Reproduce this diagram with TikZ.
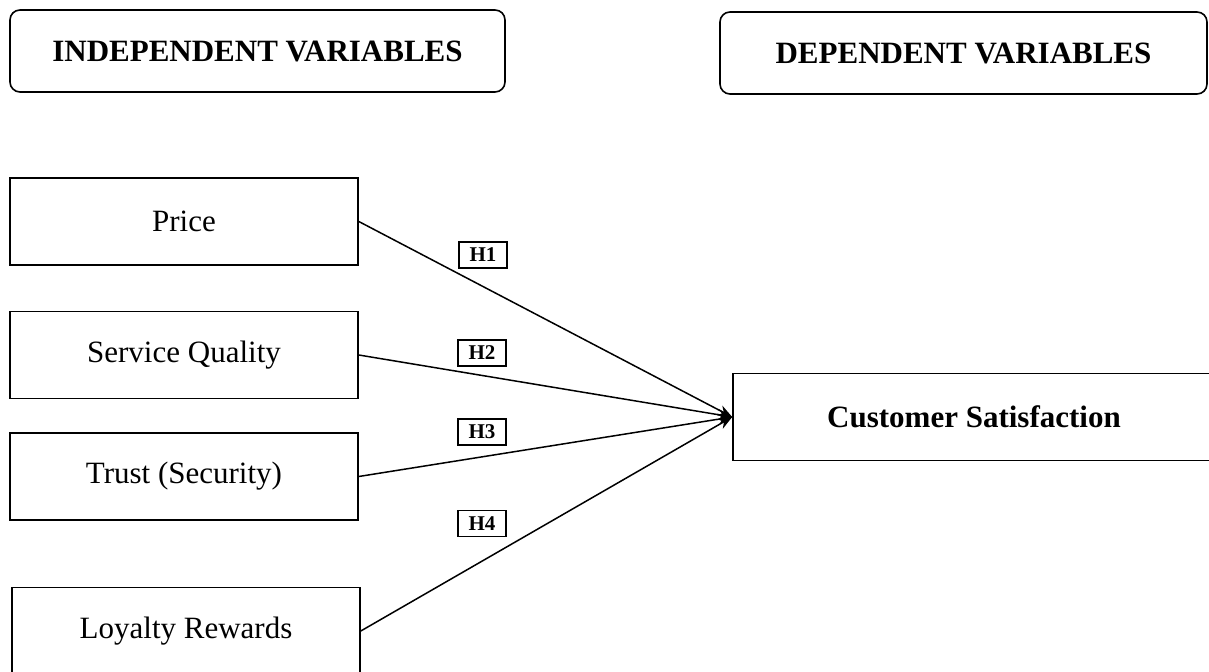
\documentclass[tikz,border=0pt]{standalone}
\usepackage{fontspec}
\setmainfont{Liberation Serif}
\usepackage{tikz}
\usetikzlibrary{arrows.meta, positioning}

\begin{document}
\begin{tikzpicture}[
        x=0.5pt, y=-0.5pt,
        font=\fontsize{15.5}{18}\selectfont,
        headbox/.style={draw, line width=0.8pt, rounded corners=5pt,
                        minimum width=#1, minimum height=41pt, inner sep=0pt,
                        font=\fontsize{15.5}{18}\selectfont\bfseries},
        varbox/.style={draw, line width=0.8pt, minimum width=174pt,
                       minimum height=43.5pt, inner sep=0pt},
        hyp/.style={draw, line width=0.6pt, minimum width=24pt,
                    minimum height=13pt, inner sep=0pt,
                    font=\fontsize{10.5}{11}\selectfont\bfseries},
        link/.style={-{Stealth[length=7pt,width=5.5pt]}, line width=0.75pt}
      ]
      \useasboundingbox (0,0) rectangle (1209,672);
      % headings
      \node[headbox=247.5pt] (indep) at (257.5,51) {INDEPENDENT VARIABLES};
      \node[headbox=243.5pt] (dep)   at (963.5,53) {DEPENDENT VARIABLES};
      % variables
      \node[varbox] (price)   at (184,221.5) {Price};
      \node[varbox] (quality) at (184,355)   {Service Quality};
      \node[varbox] (trust)   at (184,476.5) {Trust (Security)};
      \node[varbox] (loyalty) at (186,631)   {Loyalty Rewards};
      \node[varbox, minimum width=241pt, font=\fontsize{15.5}{18}\selectfont\bfseries]
        (satisf) at (974,417) {Customer Satisfaction};
      % hypotheses
      \node[hyp] (h1) at (483,255) {H1};
      \node[hyp] (h2) at (482,353) {H2};
      \node[hyp] (h3) at (482,432) {H3};
      \node[hyp] (h4) at (482,523.5) {H4};
      \draw[link] (price.east)   -- (satisf.west);
      \draw[link] (quality.east) -- (satisf.west);
      \draw[link] (trust.east)   -- (satisf.west);
      \draw[link] (loyalty.east) -- (satisf.west);
    \end{tikzpicture}
\end{document}
